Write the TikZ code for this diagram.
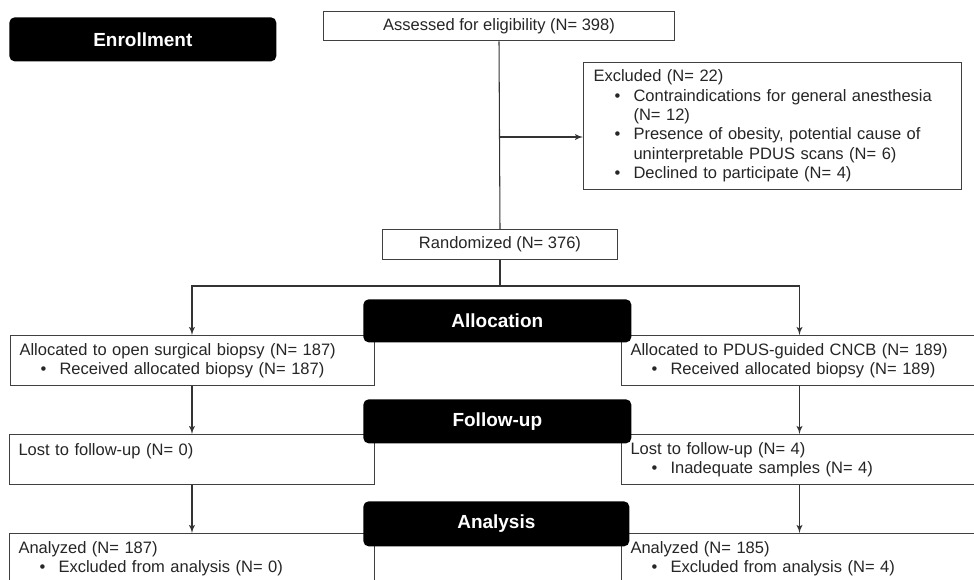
\documentclass[tikz,border=0pt]{standalone}
\usepackage{fontspec}
\setmainfont{Liberation Sans}
\usepackage{tikz}
\usetikzlibrary{arrows,positioning,calc}

\newcommand{\boxfont}{\fontsize{9.4}{11}\selectfont}
\newcommand{\phasefont}{\fontsize{10.8}{13}\selectfont\bfseries}
\newcommand{\bitem}[1]{\hspace*{0.42cm}\makebox[0.38cm][l]{\textbullet}#1}
\newcommand{\bcont}[1]{\hspace*{0.8cm}#1}

\begin{document}
\begin{tikzpicture}[
  x=0.02cm, y=-0.02cm,
  phase/.style={fill=black, rounded corners=3pt, anchor=north west, text=white,
                font=\phasefont, minimum width=5.36cm, minimum height=0.88cm},
  cbox/.style={draw=black!75, line width=0.6pt, fill=white, minimum height=0.59cm,
               font=\boxfont, text=black!85},
  sbox/.style={draw=black!75, line width=0.6pt, fill=white, anchor=north west,
               align=left, inner xsep=0.18cm, minimum height=1cm,
               font=\boxfont, text=black!85},
  arr/.style={-latex', line width=0.6pt, draw=black!80},
  conn/.style={line width=0.6pt, draw=black!80}
]
\useasboundingbox (0,0) rectangle (974,579);
\clip (0,0) rectangle (974,579);

\node[phase, minimum width=5.34cm] (enroll) at (9,17) {Enrollment};
\node[cbox, minimum width=7.04cm] (assess) at (499,26) {Assessed for eligibility (N= 398)};
\node[sbox, text width=7.16cm, inner xsep=0.2cm, minimum height=2.54cm] (excl) at (583,62)
  {Excluded (N= 22)\\
   \bitem{Contraindications for general anesthesia}\\
   \bcont{(N= 12)}\\
   \bitem{Presence of obesity, potential cause of}\\
   \bcont{uninterpretable PDUS scans (N= 6)}\\
   \bitem{Declined to participate (N= 4)}};
\node[cbox, minimum width=4.7cm] (rand) at (500,244.5) {Randomized (N= 376)};

\node[sbox, text width=6.92cm] (openb) at (10,335)
  {Allocated to open surgical biopsy (N= 187)\\ \bitem{Received allocated biopsy (N= 187)}};
\node[sbox, text width=6.76cm] (cncb) at (621,335)
  {Allocated to PDUS-guided CNCB (N= 189)\\ \bitem{Received allocated biopsy (N= 189)}};
\node[sbox, text width=6.94cm] (lostl) at (9,434)
  {Lost to follow-up (N= 0)\\ \mbox{}};
\node[sbox, text width=6.76cm] (lostr) at (621,434)
  {Lost to follow-up (N= 4)\\ \bitem{Inadequate samples (N= 4)}};
\node[sbox, text width=6.94cm] (anal) at (9,533)
  {Analyzed (N= 187)\\ \bitem{Excluded from analysis (N= 0)}};
\node[sbox, text width=6.76cm] (anar) at (621,533)
  {Analyzed (N= 185)\\ \bitem{Excluded from analysis (N= 4)}};

\node[phase, minimum height=0.86cm] (alloc) at (363,299) {Allocation};
\node[phase] (follow) at (363,399) {Follow-up};
\node[phase, minimum width=5.32cm, minimum height=0.9cm] (analysis) at (363,501) {Analysis};

\coordinate (xsplit) at (499,137);
\coordinate (rsplit) at (500,286);
\draw[conn] (assess.south) -- (rand.north);
\draw[arr] (xsplit) -- (xsplit -| excl.west);
\draw[conn] (rand.south) -- (rsplit);
\draw[arr] (rsplit) -| (lostl.north |- openb.north);
\draw[arr] (rsplit) -| (cncb.north);
\draw[arr] (lostl.north |- openb.south) -- (lostl.north);
\draw[arr] (cncb.south) -- (lostr.north);
\draw[arr] (lostl.south) -- (anal.north);
\draw[arr] (lostr.south) -- (anar.north);

\end{tikzpicture}
\end{document}
